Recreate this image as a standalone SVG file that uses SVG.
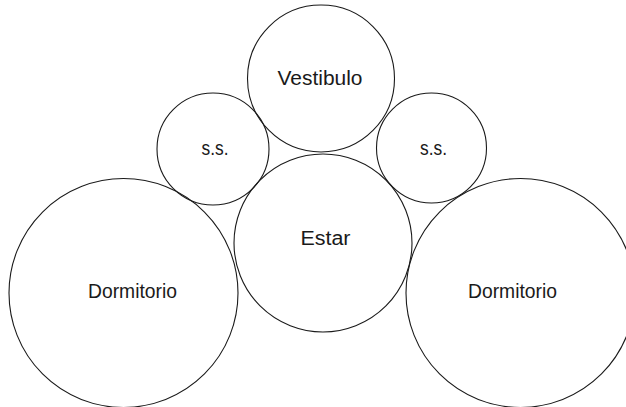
<svg xmlns="http://www.w3.org/2000/svg" width="626" height="407" viewBox="0 0 626 407">
<style>
.n{fill:none;stroke:#1a1a1a;stroke-width:1.1}
.t{font-family:"Liberation Sans",Arial,sans-serif;font-size:20px;fill:#1a1a1a;text-anchor:middle}
</style>
<rect width="626" height="407" fill="#fff"/>
<g id="connectors"></g>
<g id="vestibulo"><circle class="n" cx="321" cy="78.5" r="73.5"/><text class="t" x="320" y="85" textLength="85" lengthAdjust="spacingAndGlyphs">Vestibulo</text></g>
<g id="ss-left"><circle class="n" cx="213" cy="149" r="56"/><text class="t" x="215" y="155" textLength="27" lengthAdjust="spacingAndGlyphs">s.s.</text></g>
<g id="ss-right"><circle class="n" cx="431.5" cy="148" r="55"/><text class="t" x="433.5" y="155" textLength="27" lengthAdjust="spacingAndGlyphs">s.s.</text></g>
<g id="estar"><circle class="n" cx="323" cy="243" r="89"/><text class="t" x="325.5" y="245" textLength="50" lengthAdjust="spacingAndGlyphs">Estar</text></g>
<g id="dormitorio-left"><circle class="n" cx="123.5" cy="293" r="114.5"/><text class="t" x="132.5" y="298" textLength="89" lengthAdjust="spacingAndGlyphs">Dormitorio</text></g>
<g id="dormitorio-right"><circle class="n" cx="520.5" cy="293" r="114.5"/><text class="t" x="512.5" y="298" textLength="89" lengthAdjust="spacingAndGlyphs">Dormitorio</text></g>
</svg>
